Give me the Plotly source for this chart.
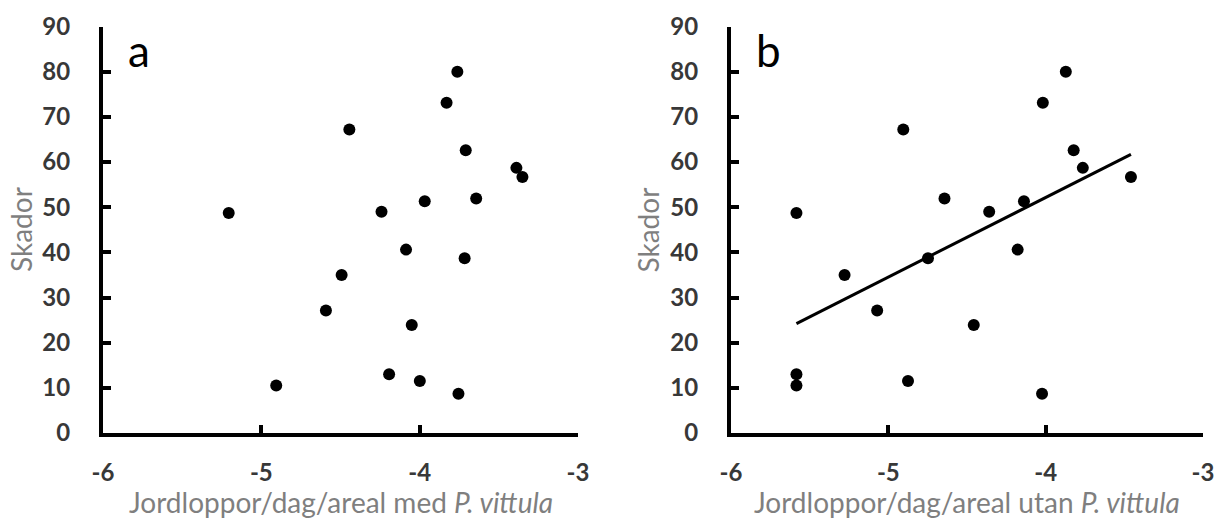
import numpy as np
import plotly.graph_objects as go

# Damage (Skador) per observation
skador = [80.0, 73.1, 67.2, 62.6, 58.7, 56.7, 48.7, 51.9, 49.0, 51.3,
          40.6, 38.7, 35.0, 27.1, 23.9, 13.0, 10.5, 11.5, 8.7]
# Flea beetles/day/area with P. vittula (panel a)
x_med = [-3.762, -3.830, -4.444, -3.709, -3.389, -3.351, -5.206, -3.643, -4.241, -3.968,
         -4.086, -3.716, -4.493, -4.592, -4.050, -4.193, -4.906, -3.999, -3.755]
# Flea beetles/day/area without P. vittula (panel b)
x_utan = [-3.872, -4.018, -4.905, -3.822, -3.764, -3.458, -5.584, -4.643, -4.359, -4.138,
          -4.178, -4.748, -5.278, -5.071, -4.457, -5.584, -5.584, -4.875, -4.023]

x_ticks = [-6, -5, -4, -3]
x_tick_labels = ["-6", "-5", "-4", "-3"]
y_ticks = [0, 10, 20, 30, 40, 50, 60, 70, 80, 90]
y_tick_labels = ["0", "10", "20", "30", "40", "50", "60", "70", "80", "90"]
x_title_a = "Jordloppor/dag/areal med <i>P. vittula</i>"
x_title_b = "Jordloppor/dag/areal utan <i>P. vittula</i>"
y_title = "Skador"
panel_labels = ["a", "b"]

W, H = 1216, 522
def px(v): return v / W
def py(v): return 1 - v / H

fig = go.Figure()
fig.add_trace(go.Scatter(x=x_med, y=skador, mode="markers",
                         marker=dict(color="black", size=12), xaxis="x", yaxis="y",
                         showlegend=False))
fig.add_trace(go.Scatter(x=x_utan, y=skador, mode="markers",
                         marker=dict(color="black", size=12), xaxis="x2", yaxis="y2",
                         showlegend=False))
# linear trendline for panel b
k, m = np.polyfit(x_utan, skador, 1)
xl = [min(x_utan), max(x_utan)]
fig.add_trace(go.Scatter(x=xl, y=[k * v + m for v in xl], mode="lines",
                         line=dict(color="black", width=3), xaxis="x2", yaxis="y2",
                         showlegend=False))

tickfont = dict(family="Lato", size=24, color="#383838", weight="bold")
axis_common = dict(showline=True, linecolor="black", linewidth=4, ticks="inside",
                   ticklen=8, tickwidth=4, tickcolor="black", showgrid=False,
                   zeroline=False, tickfont=tickfont, automargin=False)
xa = dict(axis_common, range=[-6, -3], tickvals=x_ticks, ticktext=x_tick_labels,
          ticklabelstandoff=15)
ya = dict(axis_common, range=[0, 90], tickvals=y_ticks, ticktext=y_tick_labels,
          ticklabelstandoff=24)

ydom = [py(433), py(26.5)]
fig.update_layout(
    width=W, height=H, margin=dict(l=0, r=0, t=0, b=0, autoexpand=False),
    paper_bgcolor="white", plot_bgcolor="white",
    xaxis=dict(xa, domain=[px(103), px(578)], anchor="y"),
    yaxis=dict(ya, domain=ydom, anchor="x"),
    xaxis2=dict(xa, domain=[px(731), px(1203)], anchor="y2"),
    yaxis2=dict(ya, domain=ydom, anchor="x2"),
)

tfont = dict(family="Lato", size=28, color="#7f7f7f")
ann = []
for cx, t in [((103 + 578) / 2, x_title_a), ((731 + 1203) / 2, x_title_b)]:
    ann.append(dict(x=px(cx), y=py(483), xref="paper", yref="paper", text=t,
                    showarrow=False, xanchor="center", yanchor="top", font=tfont))
for cx in [21, 647.5]:
    ann.append(dict(x=px(cx), y=py(230), xref="paper", yref="paper", text=y_title,
                    showarrow=False, xanchor="center", yanchor="middle", textangle=-90,
                    font=tfont))
for cx, lab in [(126, panel_labels[0]), (754, panel_labels[1])]:
    ann.append(dict(x=px(cx), y=py(50), xref="paper", yref="paper", text=lab,
                    showarrow=False, xanchor="left", yanchor="middle",
                    font=dict(family="Lato", size=44, color="black")))
fig.update_layout(annotations=ann)

fig.write_html("out.html")
